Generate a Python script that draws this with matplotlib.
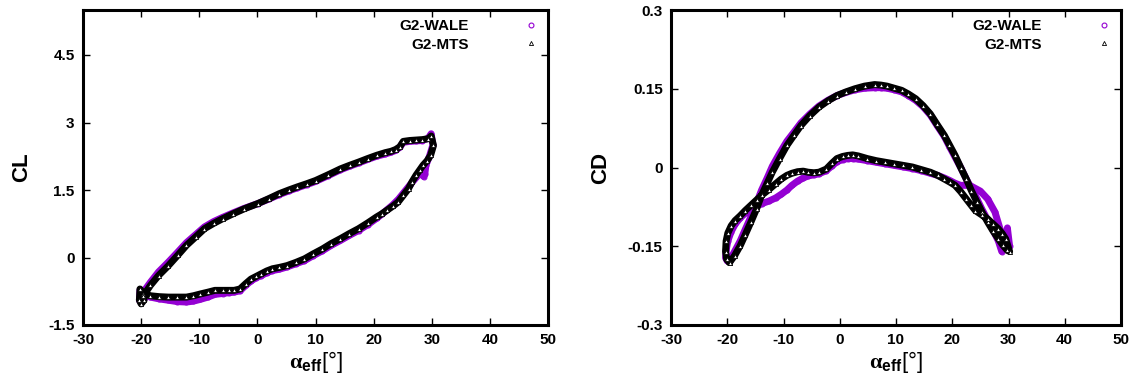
import numpy as np
import matplotlib
matplotlib.use("Agg")
import matplotlib.pyplot as plt

# ---------------------------------------------------------------------------
# Data
# ---------------------------------------------------------------------------

cl_mts_alpha = [
    -19.6, -18.4, -17.0, -15.3, -13.7, -12.2, -10.6, -9.1, -7.5, -6.0,
    -4.2, -2.3, 0.1, 2.0, 3.8, 5.4, 6.9, 8.5, 10.0, 12.2,
    14.3, 15.9, 17.4, 19.0, 20.5, 22.0, 23.0, 23.8, 24.5, 25.1,
    26.2, 27.3, 28.4, 29.4, 29.9, 30.3, 29.8, 29.2, 28.5, 27.9,
    27.3, 26.6, 26.0, 25.1, 24.2, 23.3, 22.3, 21.4, 20.5, 19.0,
    17.4, 15.8, 14.3, 12.7, 11.2, 9.6, 8.1, 6.6, 5.1, 3.8,
    2.6, 1.6, 0.7, -0.2, -1.1, -2.0, -3.0, -4.0, -4.8, -6.0,
    -7.3, -8.5, -9.8, -11.0, -12.2, -13.8, -15.3, -16.9, -18.4, -19.6,
    -20.2, -20.3, -20.0, -19.5, -19.6,
]
cl_mts = [
    -0.85, -0.62, -0.40, -0.18, 0.05, 0.27, 0.46, 0.64, 0.76, 0.86,
    0.97, 1.08, 1.20, 1.31, 1.42, 1.50, 1.57, 1.64, 1.71, 1.84,
    1.97, 2.05, 2.12, 2.20, 2.27, 2.33, 2.36, 2.40, 2.46, 2.58,
    2.60, 2.61, 2.62, 2.64, 2.70, 2.49, 2.27, 2.15, 2.05, 1.94,
    1.83, 1.68, 1.53, 1.38, 1.23, 1.14, 1.05, 0.97, 0.90, 0.77,
    0.64, 0.53, 0.42, 0.31, 0.19, 0.08, -0.03, -0.11, -0.18, -0.22,
    -0.25, -0.30, -0.36, -0.42, -0.48, -0.58, -0.70, -0.73, -0.73, -0.73,
    -0.73, -0.77, -0.81, -0.85, -0.88, -0.88, -0.88, -0.87, -0.85, -0.80,
    -0.70, -0.95, -1.03, -0.95, -0.85,
]

cl_wale_alpha = [
    -19.8, -18.4, -17.0, -15.3, -13.7, -12.2, -10.6, -9.1, -7.5, -6.0,
    -4.2, -2.3, 0.1, 2.0, 3.8, 5.4, 6.9, 8.5, 10.0, 12.2,
    14.3, 15.9, 17.4, 19.0, 20.5, 22.0, 23.0, 23.8, 24.5, 25.1,
    26.2, 27.3, 28.4, 29.4, 29.9, 30.2, 29.6, 29.0, 28.8, 28.6,
    28.0, 27.2, 26.3, 25.3, 24.3, 23.3, 22.3, 21.4, 20.5, 19.0,
    17.4, 15.8, 14.3, 12.7, 11.2, 9.6, 8.1, 6.6, 5.1, 3.8,
    2.6, 1.6, 0.7, -0.2, -1.1, -2.0, -3.0, -4.0, -4.8, -6.0,
    -7.3, -8.5, -9.8, -11.0, -12.2, -13.8, -15.3, -16.9, -18.4, -19.6,
    -20.2, -20.3, -20.0, -19.5, -19.8,
]
cl_wale = [
    -0.80, -0.55, -0.32, -0.10, 0.12, 0.33, 0.51, 0.68, 0.80, 0.89,
    0.99, 1.09, 1.20, 1.30, 1.40, 1.48, 1.55, 1.62, 1.69, 1.82,
    1.95, 2.03, 2.10, 2.18, 2.25, 2.30, 2.34, 2.38, 2.45, 2.56,
    2.58, 2.59, 2.60, 2.65, 2.75, 2.50, 2.25, 2.05, 1.85, 1.80,
    1.88, 1.76, 1.62, 1.46, 1.30, 1.17, 1.06, 0.96, 0.87, 0.73,
    0.60, 0.49, 0.38, 0.27, 0.15, 0.04, -0.07, -0.14, -0.21, -0.26,
    -0.29, -0.34, -0.40, -0.45, -0.52, -0.62, -0.74, -0.77, -0.78, -0.80,
    -0.82, -0.88, -0.93, -0.97, -0.99, -0.98, -0.95, -0.92, -0.88, -0.82,
    -0.72, -0.95, -1.00, -0.93, -0.80,
]

cd_mts_alpha = [
    -19.6, -18.7, -17.7, -16.8, -15.8, -14.8, -13.9, -12.9, -12.0, -10.7,
    -9.4, -8.1, -6.9, -5.3, -3.7, -2.1, -0.5, 1.1, 2.7, 4.4,
    6.2, 7.3, 8.4, 9.7, 11.0, 12.2, 13.5, 14.8, 16.1, 17.3,
    18.6, 19.5, 20.5, 21.5, 22.5, 23.4, 24.4, 25.3, 26.3, 27.2,
    28.2, 29.0, 29.8, 30.2, 29.5, 28.9, 28.2, 27.2, 26.3, 25.2,
    24.1, 23.3, 22.5, 21.5, 20.5, 19.6, 18.6, 17.4, 16.1, 14.5,
    12.9, 11.3, 9.7, 8.1, 6.5, 4.9, 3.3, 2.3, 1.4, 0.5,
    -0.5, -1.4, -2.4, -3.7, -4.6, -5.6, -6.5, -7.5, -8.5, -9.4,
    -10.4, -11.4, -12.6, -13.9, -14.8, -15.8, -16.8, -17.7, -18.6, -19.3,
    -19.9, -20.2, -20.3, -20.1, -19.6,
]
cd_mts = [
    -0.181, -0.168, -0.149, -0.128, -0.104, -0.079, -0.053, -0.030, -0.009, 0.017,
    0.042, 0.062, 0.080, 0.099, 0.115, 0.127, 0.137, 0.144, 0.150, 0.155,
    0.158, 0.157, 0.155, 0.151, 0.147, 0.140, 0.131, 0.118, 0.102, 0.082,
    0.061, 0.043, 0.023, 0.000, -0.022, -0.044, -0.066, -0.085, -0.104, -0.120,
    -0.136, -0.148, -0.158, -0.160, -0.136, -0.126, -0.117, -0.107, -0.098, -0.090,
    -0.082, -0.071, -0.060, -0.046, -0.034, -0.028, -0.022, -0.015, -0.009, -0.004,
    0.001, 0.004, 0.007, 0.010, 0.013, 0.017, 0.022, 0.024, 0.023, 0.021,
    0.017, 0.008, -0.003, -0.009, -0.010, -0.009, -0.007, -0.008, -0.011, -0.015,
    -0.022, -0.031, -0.042, -0.053, -0.062, -0.072, -0.082, -0.092, -0.101, -0.111,
    -0.125, -0.140, -0.160, -0.175, -0.181,
]

cd_wale_alpha = [
    -19.6, -18.7, -17.7, -16.8, -15.8, -14.8, -13.9, -12.9, -12.0, -10.7,
    -9.4, -8.1, -6.9, -5.3, -3.7, -2.1, -0.5, 1.1, 2.7, 4.4,
    6.2, 7.3, 8.4, 9.7, 11.0, 12.2, 13.5, 14.8, 16.1, 17.3,
    18.6, 19.5, 20.5, 21.5, 22.5, 23.4, 24.4, 25.3, 26.3, 27.2,
    28.2, 28.8, 29.4, 29.8, 30.2, 29.0, 28.5, 27.6, 26.3, 25.0,
    23.1, 21.5, 20.5, 19.6, 18.6, 17.4, 16.1, 14.5,
    12.9, 11.3, 9.7, 8.1, 6.5, 4.9, 3.3, 2.3, 1.4, 0.5,
    -0.5, -1.4, -2.4, -3.7, -4.6, -5.6, -6.5, -7.5, -8.5, -9.4,
    -10.4, -11.4, -12.6, -13.9, -14.8, -15.8, -16.8, -17.7, -18.6, -19.3,
    -19.9, -20.2, -20.3, -20.0, -19.6,
]
cd_wale = [
    -0.178, -0.160, -0.140, -0.118, -0.094, -0.068, -0.043, -0.020, 0.002, 0.027,
    0.050, 0.068, 0.085, 0.102, 0.117, 0.128, 0.137, 0.143, 0.148, 0.151,
    0.152, 0.152, 0.151, 0.148, 0.144, 0.137, 0.128, 0.116, 0.100, 0.080,
    0.059, 0.040, 0.020, 0.000, -0.022, -0.040, -0.060, -0.080, -0.100, -0.118,
    -0.140, -0.160, -0.150, -0.115, -0.150, -0.142, -0.117, -0.085, -0.060, -0.045,
    -0.034, -0.034, -0.030, -0.025, -0.020, -0.015, -0.011, -0.006,
    -0.002, 0.001, 0.004, 0.007, 0.010, 0.013, 0.016, 0.017, 0.017, 0.015,
    0.011, 0.003, -0.006, -0.012, -0.014, -0.016, -0.020, -0.026, -0.034, -0.043,
    -0.051, -0.058, -0.064, -0.069, -0.074, -0.080, -0.087, -0.096, -0.108, -0.122,
    -0.140, -0.158, -0.172, -0.178, -0.178,
]

series_labels = ["G2-WALE", "G2-MTS"]
x_ticks = [-30, -20, -10, 0, 10, 20, 30, 40, 50]
cl_ticks = [-1.5, 0, 1.5, 3, 4.5]
cd_ticks = [-0.3, -0.15, 0, 0.15, 0.3]
cd_tick_labels = ["-0.3", "-0.15", "0", "0.15", "0.3"]
cl_tick_labels = ["-1.5", "0", "1.5", "3", "4.5"]

# ---------------------------------------------------------------------------
# Style
# ---------------------------------------------------------------------------

plt.rcParams["font.family"] = ["Liberation Sans", "DejaVu Sans"]
plt.rcParams["font.weight"] = "bold"
plt.rcParams["axes.unicode_minus"] = False
plt.rcParams["mathtext.fontset"] = "custom"
plt.rcParams["mathtext.rm"] = "Liberation Serif"
plt.rcParams["mathtext.bf"] = "Liberation Sans:bold"

WALE_COLOR = "#9400D3"
MTS_COLOR = "black"
XLABEL = r"$\mathrm{\alpha}_{\mathbf{eff}}$[°]"


def _draw_panel(ax, wale_x, wale_y, mts_x, mts_y, ylim, yticks, yticklabels, ylabel):
    ax.plot(wale_x, wale_y, "-", color=WALE_COLOR, linewidth=5.0,
            solid_joinstyle="round", solid_capstyle="round", zorder=2)
    ax.plot(wale_x, wale_y, "o", color=WALE_COLOR, markersize=3.5,
            markerfacecolor="none", markeredgewidth=0.8, zorder=2,
            label=series_labels[0])
    ax.plot(mts_x, mts_y, "-", color=MTS_COLOR, linewidth=5.0,
            solid_joinstyle="round", solid_capstyle="round", zorder=3)
    ax.plot(mts_x, mts_y, "^", color=MTS_COLOR, markersize=3.0,
            markerfacecolor="white", markeredgecolor=MTS_COLOR,
            markeredgewidth=0.6, zorder=3, label=series_labels[1])

    ax.set_xlim(-30, 50)
    ax.set_ylim(*ylim)
    ax.set_xticks(x_ticks)
    ax.set_yticks(yticks)
    ax.set_yticklabels(yticklabels)
    ax.tick_params(direction="in", top=True, right=True, length=5, width=1.0,
                   labelsize=11, pad=6)
    for sp in ax.spines.values():
        sp.set_linewidth(2.2)

    ax.set_xlabel(XLABEL, fontsize=16, labelpad=1)
    ax.set_ylabel(ylabel, fontsize=16, fontweight="bold", labelpad=12)

    handles, labels = ax.get_legend_handles_labels()
    ax.legend(handles, labels, loc="upper right", frameon=False,
              markerfirst=False, fontsize=11, handlelength=1.0,
              handletextpad=3.6, labelspacing=0.3, borderaxespad=0.3,
              borderpad=0.3)


fig = plt.figure(figsize=(11.36, 3.83), dpi=100)
ax_cl = fig.add_axes([83 / 1136, 58 / 383, 465 / 1136, 315 / 383])
ax_cd = fig.add_axes([671 / 1136, 58 / 383, 450 / 1136, 315 / 383])

_draw_panel(ax_cl, cl_wale_alpha, cl_wale, cl_mts_alpha, cl_mts,
            (-1.5, 5.5), cl_ticks, cl_tick_labels, "CL")
_draw_panel(ax_cd, cd_wale_alpha, cd_wale, cd_mts_alpha, cd_mts,
            (-0.3, 0.3), cd_ticks, cd_tick_labels, "CD")

fig.savefig("out.png", dpi=100)
